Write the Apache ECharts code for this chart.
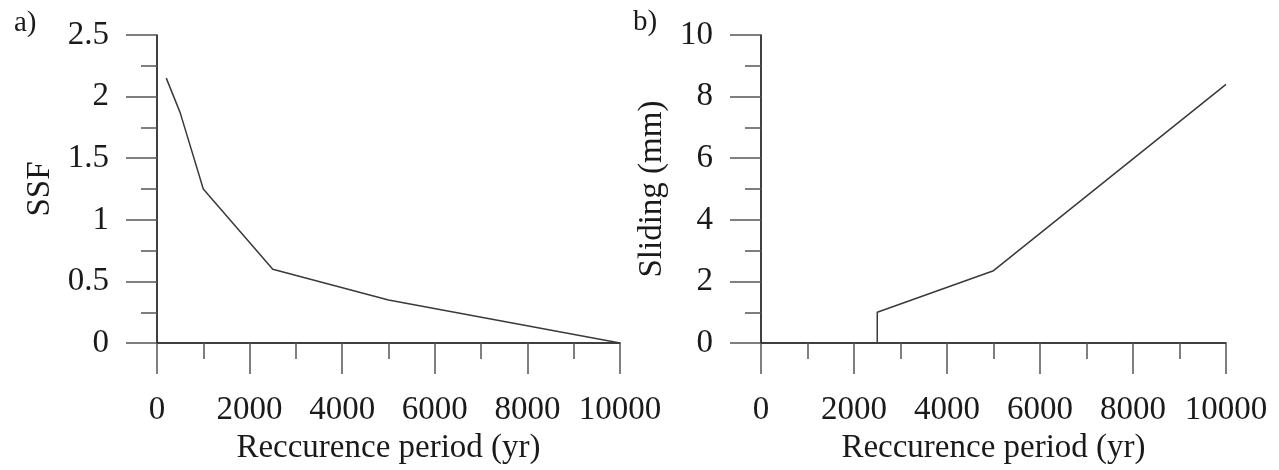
<!DOCTYPE html>
<html>
<head>
<meta charset="utf-8">
<script src="https://cdn.jsdelivr.net/npm/echarts@6/dist/echarts.min.js"></script>
<style>
  html, body { margin: 0; padding: 0; background: #fff; }
  #chart { width: 1279px; height: 470px; }
</style>
</head>
<body>
<div id="chart"></div>
<script>
// panel a) safety factor vs recurrence period
const yearsA = [200, 500, 1000, 2500, 5000, 10000];
const ssf = [2.15, 1.87, 1.25, 0.6, 0.35, 0];
// panel b) sliding vs recurrence period
const yearsB = [2500, 2500, 5000, 10000];
const sliding = [0, 1, 2.35, 8.4];

const xName = 'Reccurence period (yr)';
const font = 'Liberation Serif';
const txt = '#1a1a1a';
const fs = 33;

var myChart = echarts.init(document.getElementById('chart'));

function xAxisOpt(idx) {
    return {
        type: 'value',
        gridIndex: idx,
        min: 0,
        max: 10000,
        interval: 2000,
        name: xName,
        nameLocation: 'middle',
        nameGap: 87,
        nameTextStyle: { fontFamily: font, fontSize: fs, color: txt },
        axisLine: { onZero: false, lineStyle: { color: '#000', width: 1.5 } },
        axisTick: { length: 31, lineStyle: { color: '#555', width: 1.5 } },
        minorTick: { show: true, splitNumber: 2, length: 16, lineStyle: { color: '#555', width: 1.5 } },
        axisLabel: {
            margin: 51, fontFamily: font, fontSize: fs, color: txt,
            showMaxLabel: true, showMinLabel: true,
            formatter: function (v) { return String(v); }
        },
        splitLine: { show: false },
        minorSplitLine: { show: false }
    };
}

function yAxisOpt(idx, max, interval, name, gap) {
    return {
        type: 'value',
        gridIndex: idx,
        min: 0,
        max: max,
        interval: interval,
        name: name,
        nameLocation: 'middle',
        nameGap: gap,
        nameTextStyle: { fontFamily: font, fontSize: fs, color: txt },
        axisLine: { show: true, onZero: false, lineStyle: { color: '#000', width: 1.5 } },
        axisTick: { show: true, length: 31, lineStyle: { color: '#555', width: 1.5 } },
        minorTick: { show: true, splitNumber: 2, length: 16, lineStyle: { color: '#555', width: 1.5 } },
        axisLabel: { margin: 48, fontFamily: font, fontSize: fs, color: txt },
        splitLine: { show: false },
        minorSplitLine: { show: false }
    };
}

var option = {
    animation: false,
    backgroundColor: '#fff',
    title: [
        { text: 'a)', left: 9, top: 4, textStyle: { fontFamily: font, fontSize: 29, fontWeight: 'normal', color: txt } },
        { text: 'b)', left: 628, top: 3, textStyle: { fontFamily: font, fontSize: 29, fontWeight: 'normal', color: txt } }
    ],
    grid: [
        { left: 157, top: 35, width: 463, height: 311 },
        { left: 761, top: 35, width: 465, height: 311 }
    ],
    xAxis: [xAxisOpt(0), xAxisOpt(1)],
    yAxis: [
        yAxisOpt(0, 2.5, 0.5, 'SSF', 100),
        yAxisOpt(1, 10, 2, 'Sliding (mm)', 92)
    ],
    series: [
        {
            type: 'line',
            xAxisIndex: 0,
            yAxisIndex: 0,
            data: yearsA.map((x, i) => [x, ssf[i]]),
            showSymbol: false,
            lineStyle: { color: '#3a3a3a', width: 1.5 },
            silent: true
        },
        {
            type: 'line',
            xAxisIndex: 1,
            yAxisIndex: 1,
            data: yearsB.map((x, i) => [x, sliding[i]]),
            showSymbol: false,
            lineStyle: { color: '#3a3a3a', width: 1.5 },
            silent: true
        }
    ]
};

myChart.setOption(option);
</script>
</body>
</html>
